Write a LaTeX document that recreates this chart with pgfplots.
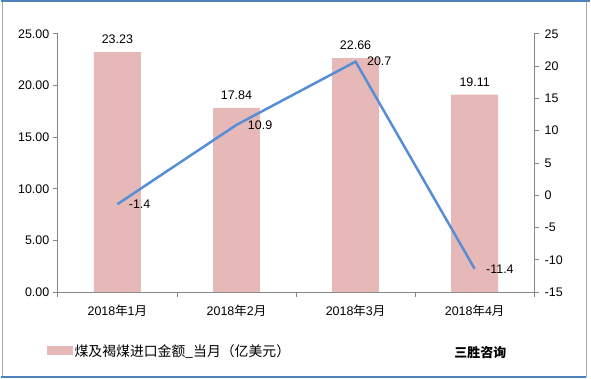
\documentclass[border=0pt]{standalone}
\usepackage{fontspec}
\setmainfont{Liberation Sans}
\newfontfamily\cjk{Noto Sans CJK SC}
\usepackage{pgfplots}
\pgfplotsset{compat=1.18}
\definecolor{barc}{RGB}{230,185,184}
\definecolor{linec}{RGB}{85,142,213}
\definecolor{axc}{RGB}{134,134,134}
\definecolor{framec}{RGB}{79,129,189}

\begin{document}
\begin{tikzpicture}
\fill[white] (0pt,0pt) rectangle (591pt,380pt);
\draw[axc!70] (1pt,3pt) rectangle (587pt,379pt);
\draw[framec, line width=2pt] (0pt,379pt) -- (591pt,379pt);
\draw[framec, line width=2pt] (0pt,2pt) -- (587pt,2pt);

\begin{axis}[
  at={(57pt,87pt)}, anchor=south west, scale only axis,
  width=478pt, height=259pt,
  xmin=-0.5, xmax=3.5, ymin=0, ymax=25,
  axis x line*=bottom, axis y line*=left,
  axis line style={axc, line width=0.8pt},
  every tick/.style={axc, line width=0.8pt},
  tick align=outside, major tick length=5pt,
  xtick={-0.5,0.5,1.5,2.5,3.5}, xticklabels={},
  extra x ticks={0,1,2,3},
  extra x tick labels={2018{\cjk 年}1{\cjk 月},2018{\cjk 年}2{\cjk 月},2018{\cjk 年}3{\cjk 月},2018{\cjk 年}4{\cjk 月}},
  extra x tick style={major tick length=0pt, xticklabel style={yshift=-9pt}},
  ytick={0,5,10,15,20,25},
  yticklabel style={/pgf/number format/.cd, fixed, fixed zerofill, precision=2},
  /pgf/number format/assume math mode=true,
  tick label style={font=\fontsize{12.5}{14}\selectfont, black},
  ybar, bar width=47pt,
  nodes near coords,
  nodes near coords style={font=\fontsize{12.5}{14}\selectfont, black, yshift=5pt, /pgf/number format/.cd, fixed, fixed zerofill, precision=2},
  legend style={at={(-0.03,-0.228)}, anchor=west, draw=none, fill=none, font=\fontsize{13.9}{16}\selectfont},
  clip=false,
]
\addplot[fill=barc, draw=none, legend image code/.code={\fill[barc] (0pt,-4.5pt) rectangle (26pt,4.5pt);}] coordinates {(0,23.23) (1,17.84) (2,22.66) (3,19.11)};
\addlegendentry{\cjk 煤及褐煤进口金额\_当月（亿美元）}
\end{axis}

\begin{axis}[
  at={(57pt,87pt)}, anchor=south west, scale only axis,
  width=478pt, height=259pt,
  xmin=-0.5, xmax=3.5, ymin=-15, ymax=25,
  axis x line=none, axis y line*=right,
  axis line style={axc, line width=0.8pt},
  every tick/.style={axc, line width=0.8pt},
  tick align=outside, major tick length=5pt,
  ytick={-15,-10,-5,0,5,10,15,20,25},
  /pgf/number format/assume math mode=true,
  tick label style={font=\fontsize{12.5}{14}\selectfont, black},
  yticklabel style={xshift=2pt},
  clip=false,
]
\addplot[linec, line width=2.5pt, mark=none,
  nodes near coords,
  nodes near coords style={font=\fontsize{12.5}{14}\selectfont, black, anchor=west, xshift=7pt}]
  coordinates {(0,-1.4) (1,10.9) (2,20.7) (3,-11.4)};
\end{axis}

\node[font=\fontsize{13}{15}\selectfont\cjk\bfseries] at (481pt,26pt) {三胜咨询};
\end{tikzpicture}
\end{document}
